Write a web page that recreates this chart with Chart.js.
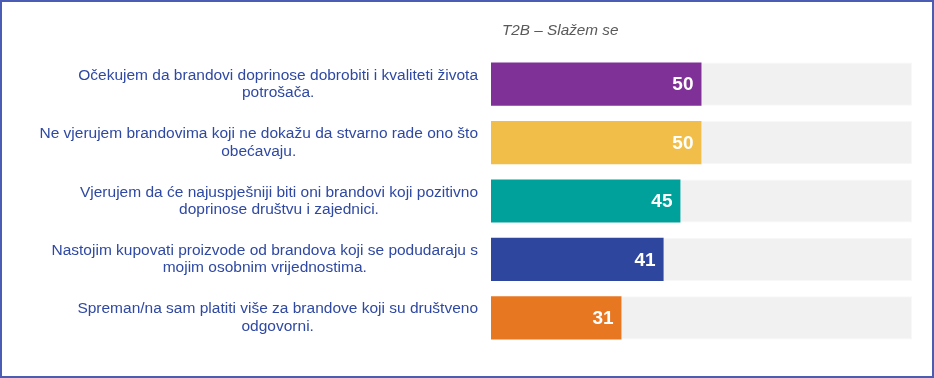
<!DOCTYPE html>
<html>
<head>
<meta charset="utf-8">
<script src="https://cdn.jsdelivr.net/npm/chart.js@4"></script>
<style>
  html, body { margin: 0; padding: 0; background: #fff; }
  #wrap {
    width: 934px; height: 378px; box-sizing: border-box;
    border: 2px solid #4a5cb3; position: relative;
  }
  canvas { position: absolute; left: -2px; top: -2px; }
</style>
</head>
<body>
<div id="wrap"><canvas id="chart" width="934" height="378"></canvas></div>
<script>
const labels = [
  ["Očekujem da brandovi doprinose dobrobiti i kvaliteti života", "potrošača."],
  ["Ne vjerujem brandovima koji ne dokažu da stvarno rade ono što", "obećavaju."],
  ["Vjerujem da će najuspješniji biti oni brandovi koji pozitivno", "doprinose društvu i zajednici."],
  ["Nastojim kupovati proizvode od brandova koji se podudaraju s", "mojim osobnim vrijednostima."],
  ["Spreman/na sam platiti više za brandove koji su društveno", "odgovorni."]
];
const values = [50, 50, 45, 41, 31];
const barColors = ["#7f3197", "#f1bf49", "#00a19a", "#2e469d", "#e87722"];
const maxValue = 100;
const title = "T2B – Slažem se";

const rest = values.map(v => maxValue - v);

// draws the category labels (lines centred on the widest line), title and value labels
const textPlugin = {
  id: "texts",
  afterDatasetsDraw(chart) {
    const ctx = chart.ctx;
    const area = chart.chartArea;
    const yScale = chart.scales.y;
    ctx.save();

    ctx.font = "15.5px 'Liberation Sans', Arial, sans-serif";
    ctx.fillStyle = "#2f49a3";
    ctx.textBaseline = "middle";
    ctx.textAlign = "center";
    const right = area.left - 13;
    const lineH = 17.5;
    labels.forEach((lines, i) => {
      const yc = yScale.getPixelForValue(i);
      const w = Math.max(...lines.map(l => ctx.measureText(l).width));
      const cx = right - w / 2;
      lines.forEach((l, j) => {
        ctx.fillText(l, cx, yc + (j - (lines.length - 1) / 2) * lineH);
      });
    });

    ctx.font = "italic 15.3px 'Liberation Sans', Arial, sans-serif";
    ctx.fillStyle = "#595959";
    ctx.textAlign = "left";
    ctx.fillText(title, area.left + 11, 31);

    ctx.font = "bold 19px 'Liberation Sans', Arial, sans-serif";
    ctx.fillStyle = "#ffffff";
    ctx.textAlign = "right";
    chart.getDatasetMeta(0).data.forEach((bar, i) => {
      ctx.fillText(String(values[i]), bar.x - 8, bar.y + 1);
    });
    ctx.restore();
  }
};

new Chart(document.getElementById("chart").getContext("2d"), {
  type: "bar",
  data: {
    labels: labels.map(l => l.join(" ")),
    datasets: [
      {
        data: values,
        backgroundColor: barColors,
        borderWidth: 0,
        barPercentage: 0.74,
        categoryPercentage: 1
      },
      {
        data: rest,
        backgroundColor: "#f1f1f1",
        borderColor: "#f8f8f8",
        borderWidth: 1,
        barPercentage: 0.74,
        categoryPercentage: 1
      }
    ]
  },
  options: {
    indexAxis: "y",
    responsive: false,
    animation: false,
    layout: { padding: { left: 491, right: 22, top: 55, bottom: 31 } },
    plugins: {
      legend: { display: false },
      tooltip: { enabled: false },
      title: { display: false }
    },
    scales: {
      x: { display: false, stacked: true, min: 0, max: maxValue },
      y: { display: false, stacked: true }
    }
  },
  plugins: [textPlugin]
});
</script>
</body>
</html>
